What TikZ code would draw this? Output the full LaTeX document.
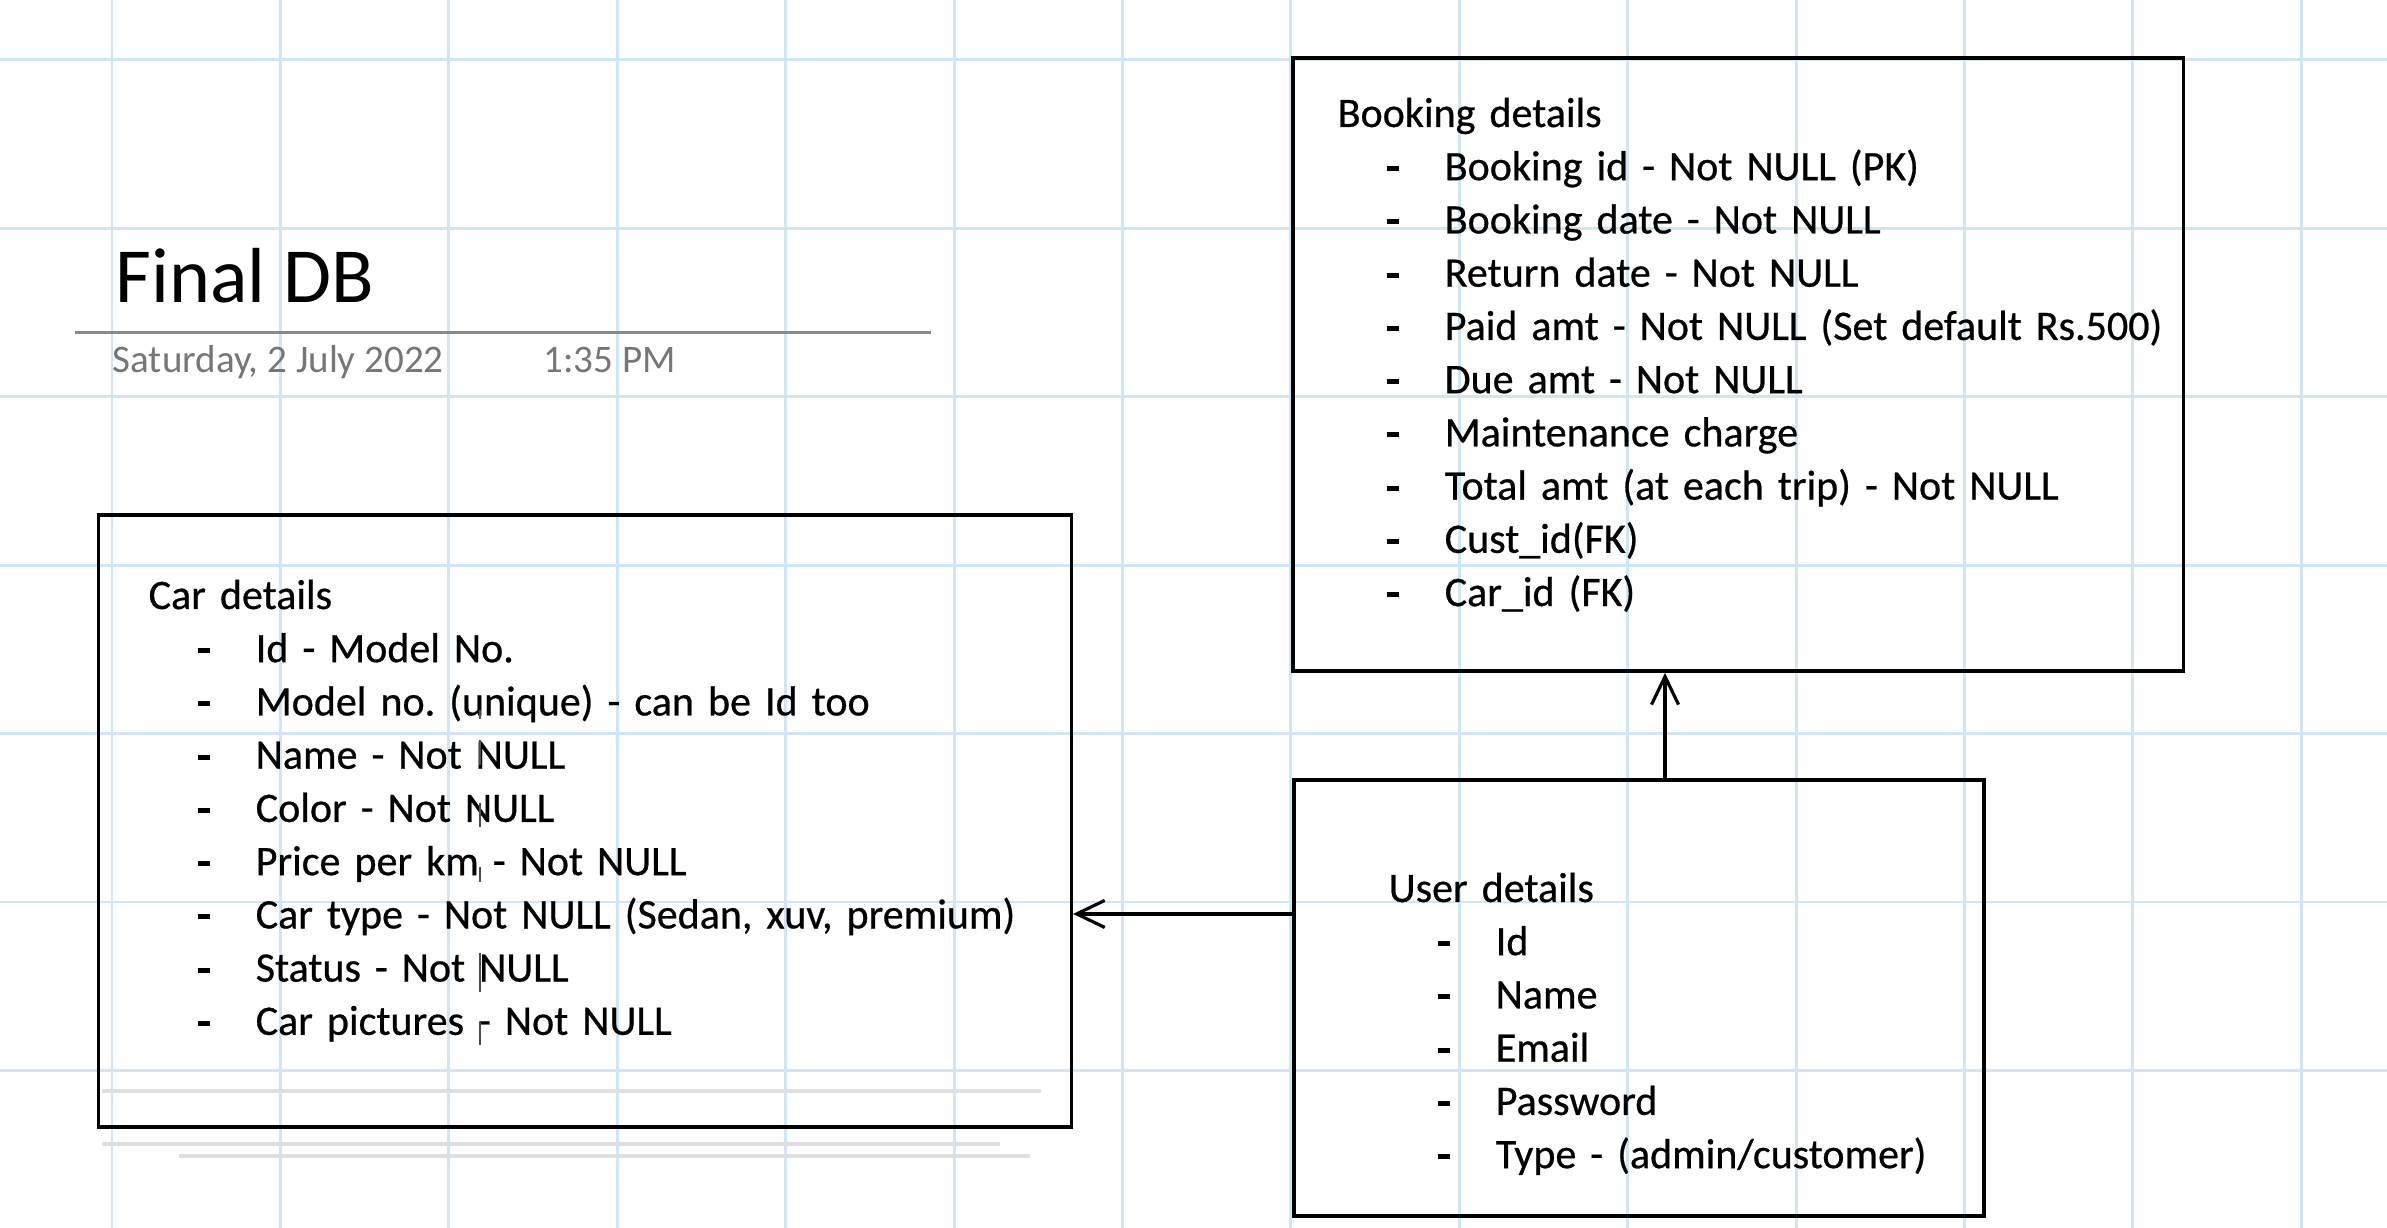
\documentclass[tikz,border=0pt]{standalone}
\usepackage{fontspec}
\setmainfont{Carlito}
\newfontfamily\notefont{Carlito}[FakeBold=0.6]
\usetikzlibrary{arrows.meta}
\definecolor{paperblue}{RGB}{207,230,247}
\definecolor{stampgray}{RGB}{118,118,118}
\definecolor{rulegray}{RGB}{138,138,138}
\definecolor{ghostgray}{RGB}{223,223,223}
\frenchspacing
\newcommand{\fld}{\hspace*{0.49cm}\makebox[0.58cm][l]{\rule[0.09cm]{0.12cm}{0.05cm}}}
\tikzset{
	tbl/.style={draw,line width=1pt,inner sep=0pt},
	fields/.style={anchor=base west,align=left,inner sep=0pt,font=\notefont\fontsize{0.42cm}{0.532cm}\selectfont},
	stamp/.style={anchor=base west,inner sep=0pt,text=stampgray,font=\fontsize{0.39cm}{0.47cm}\selectfont},
	link/.style={line width=0.9pt,-{Straight Barb[length=0.28cm,width=0.27cm]}}
}
\begin{document}
\begin{tikzpicture}[x=0.01cm,y=-0.01cm]
		\useasboundingbox (0,0) rectangle (2387,1228);
		% squared paper
		\foreach \k in {0,...,13} \draw[paperblue,line width=0.85pt] (112+168.4*\k,0)--(112+168.4*\k,1228);
		\foreach \k in {0,...,6} \draw[paperblue,line width=0.85pt] (0,60+168.4*\k)--(2387,60+168.4*\k);
		% page title
		\node[anchor=base west,inner sep=0pt,font=\fontsize{0.78cm}{0.9cm}\selectfont] (title) at (115,303) {Final DB};
		\draw[rulegray,line width=0.85pt] (75,333)--(931,333);
		\node[stamp] (date) at (112,373) {Saturday, 2 July 2022};
		\node[stamp] (time) at (543,373) {1:35 PM};
		% tables
		\node[tbl,minimum width=9.72cm,minimum height=6.12cm] (car) at (585,821) {};
		\node[tbl,minimum width=8.90cm,minimum height=6.13cm] (booking) at (1738,364.5) {};
		\node[tbl,minimum width=6.90cm,minimum height=4.36cm] (user) at (1639,998) {};
		\node[fields,text width=9.2cm] (carlist) at (148,609) {Car details\\
			\fld Id - Model No.\\
			\fld Model no. (unique) - can be Id too\\
			\fld Name - Not NULL\\
			\fld Color - Not NULL\\
			\fld Price per km - Not NULL\\
			\fld Car type - Not NULL (Sedan, xuv, premium)\\
			\fld Status - Not NULL\\
			\fld Car pictures - Not NULL};
		\node[fields,text width=8.8cm] (bookinglist) at (1337,127) {Booking details\\
			\fld Booking id - Not NULL (PK)\\
			\fld Booking date - Not NULL\\
			\fld Return date - Not NULL\\
			\fld Paid amt - Not NULL (Set default Rs.500)\\
			\fld Due amt - Not NULL\\
			\fld Maintenance charge\\
			\fld Total amt (at each trip) - Not NULL\\
			\fld Cust\_id(FK)\\
			\fld Car\_id (FK)};
		\node[fields,text width=5.9cm] (userlist) at (1388,902) {User details\\
			\fld Id\\
			\fld Name\\
			\fld Email\\
			\fld Password\\
			\fld Type - (admin/customer)};
		% leftover strokes under the car table
		\draw[ghostgray,line width=1pt] (102,1091)--(1041,1091);
		\draw[ghostgray,line width=1pt] (102,1144)--(1000,1144);
		\draw[ghostgray,line width=1pt] (179,1156)--(1030,1156);
		\foreach \ya/\yb in {710/719,740/765,803/827,867/882,953/992,1022/1045}
			\draw[black!70,line width=0.3pt] (480,\ya)--(480,\yb);
		% relations
		\coordinate (up) at ([xshift=0.26cm]user.north);
		\coordinate (side) at ([yshift=0.84cm]user.west);
		\draw[link] (up)--(up |- booking.south);
		\draw[link] (side)--(side -| car.east);
\end{tikzpicture}
\end{document}
